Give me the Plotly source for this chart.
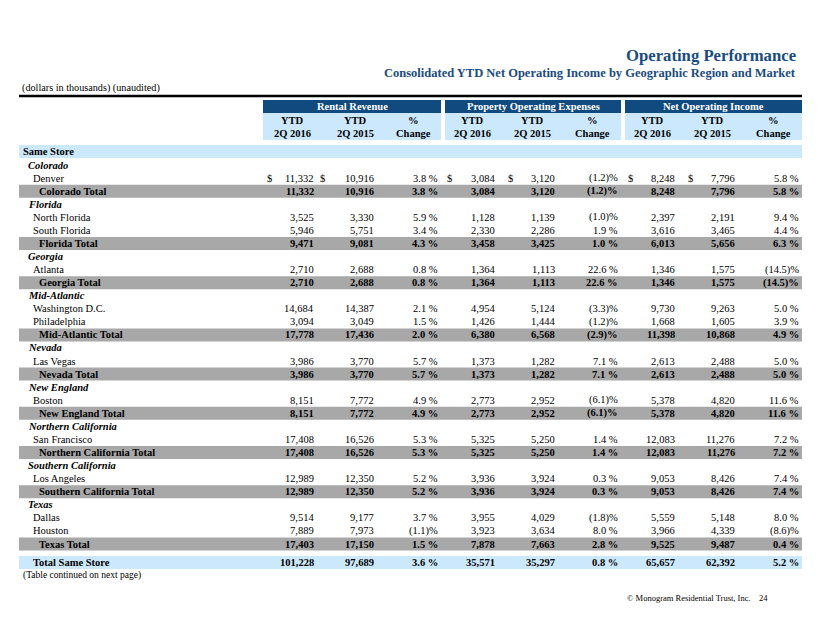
import plotly.graph_objects as go

# ---------------- data ----------------
row_labels = ["Colorado", "Denver", "Colorado Total",
              "Florida", "North Florida", "South Florida", "Florida Total",
              "Georgia", "Atlanta", "Georgia Total",
              "Mid-Atlantic", "Washington D.C.", "Philadelphia", "Mid-Atlantic Total",
              "Nevada", "Las Vegas", "Nevada Total",
              "New England", "Boston", "New England Total",
              "Northern California", "San Francisco", "Northern California Total",
              "Southern California", "Los Angeles", "Southern California Total",
              "Texas", "Dallas", "Houston", "Texas Total"]
row_kinds = ["region", "market", "total",
             "region", "market", "market", "total",
             "region", "market", "total",
             "region", "market", "market", "total",
             "region", "market", "total",
             "region", "market", "total",
             "region", "market", "total",
             "region", "market", "total",
             "region", "market", "market", "total"]
N = None
rr_2016 = [N, 11332, 11332, N, 3525, 5946, 9471, N, 2710, 2710, N, 14684, 3094, 17778,
           N, 3986, 3986, N, 8151, 8151, N, 17408, 17408, N, 12989, 12989, N, 9514, 7889, 17403]
rr_2015 = [N, 10916, 10916, N, 3330, 5751, 9081, N, 2688, 2688, N, 14387, 3049, 17436,
           N, 3770, 3770, N, 7772, 7772, N, 16526, 16526, N, 12350, 12350, N, 9177, 7973, 17150]
rr_pct = [N, 3.8, 3.8, N, 5.9, 3.4, 4.3, N, 0.8, 0.8, N, 2.1, 1.5, 2.0,
          N, 5.7, 5.7, N, 4.9, 4.9, N, 5.3, 5.3, N, 5.2, 5.2, N, 3.7, -1.1, 1.5]
poe_2016 = [N, 3084, 3084, N, 1128, 2330, 3458, N, 1364, 1364, N, 4954, 1426, 6380,
            N, 1373, 1373, N, 2773, 2773, N, 5325, 5325, N, 3936, 3936, N, 3955, 3923, 7878]
poe_2015 = [N, 3120, 3120, N, 1139, 2286, 3425, N, 1113, 1113, N, 5124, 1444, 6568,
            N, 1282, 1282, N, 2952, 2952, N, 5250, 5250, N, 3924, 3924, N, 4029, 3634, 7663]
poe_pct = [N, -1.2, -1.2, N, -1.0, 1.9, 1.0, N, 22.6, 22.6, N, -3.3, -1.2, -2.9,
           N, 7.1, 7.1, N, -6.1, -6.1, N, 1.4, 1.4, N, 0.3, 0.3, N, -1.8, 8.0, 2.8]
noi_2016 = [N, 8248, 8248, N, 2397, 3616, 6013, N, 1346, 1346, N, 9730, 1668, 11398,
            N, 2613, 2613, N, 5378, 5378, N, 12083, 12083, N, 9053, 9053, N, 5559, 3966, 9525]
noi_2015 = [N, 7796, 7796, N, 2191, 3465, 5656, N, 1575, 1575, N, 9263, 1605, 10868,
            N, 2488, 2488, N, 4820, 4820, N, 11276, 11276, N, 8426, 8426, N, 5148, 4339, 9487]
noi_pct = [N, 5.8, 5.8, N, 9.4, 4.4, 6.3, N, -14.5, -14.5, N, 5.0, 3.9, 4.9,
           N, 5.0, 5.0, N, 11.6, 11.6, N, 7.2, 7.2, N, 7.4, 7.4, N, 8.0, -8.6, 0.4]

total_label = "Total Same Store"
total_values = [101228, 97689, 3.6, 35571, 35297, 0.8, 65657, 62392, 5.2]

group_titles = ["Rental Revenue", "Property Operating Expenses", "Net Operating Income"]
col_headers = ["YTD<br>2Q 2016", "YTD<br>2Q 2015", "%<br>Change"]

title = "Operating Performance"
subtitle = "Consolidated YTD Net Operating Income by Geographic Region and Market"
note_top = "(dollars in thousands) (unaudited)"
note_bottom = "(Table continued on next page)"
footer = "\u00a9 Monogram Residential Trust, Inc.\u00a0\u00a0\u00a0 24"

# ---------------- style / layout ----------------
W, H = 822, 635
OFF = 8  # page body margin
FONT = "Liberation Serif, Times New Roman, serif"
DARK = "#114a7e"
TITLE_C = "#1a4c80"
LIGHT = "#cce8fd"
GRAY = "#a8a8a8"
FS = 10.5

LEFT, RIGHT = 19, 802
group_x = [(263, 441), (445, 621), (625, 802)]
col_centers = [292, 355, 413, 472, 532, 592, 652, 712, 773]
num_right = [316, 376, 440, 497, 557, 620, 677, 737, 801]
dollar_x = [269, 322, None, 449, 510, None, 630, 690, None]

y0 = 165.0
pitch = 13.07

fig = go.Figure()
shapes = []
ann = []


def add_text(x, y, text, anchor="left", bold=False, italic=False, size=FS, color="black"):
    ann.append(dict(x=x, y=y, xref="x", yref="y", text=text, showarrow=False,
                    xanchor=anchor, yanchor="middle",
                    font=dict(family=FONT, size=size, color=color,
                              weight="bold" if bold else "normal",
                              style="italic" if italic else "normal")))


def rect(x0, y0_, x1, y1, color):
    shapes.append(dict(type="rect", xref="x", yref="y", x0=x0, x1=x1, y0=y0_, y1=y1,
                       fillcolor=color, line=dict(width=0), layer="below"))


def fmt_num(v):
    return f"{v:,.0f}"


def fmt_pct(v):
    return f"{v:.1f} %" if v >= 0 else f"({abs(v):.1f})%"


# titles
add_text(798, 55, title, anchor="right", bold=True, size=16.7, color=TITLE_C)
add_text(798, 73, subtitle, anchor="right", bold=True, size=12.5, color=TITLE_C)
add_text(20, 88, note_top, size=10.2)

# thick rule
shapes.append(dict(type="line", xref="x", yref="y", x0=LEFT, x1=RIGHT, y0=96, y1=96,
                   line=dict(color="black", width=2.5)))

# header bands
for (gx0, gx1), gt in zip(group_x, group_titles):
    rect(gx0, 100, gx1, 113, DARK)
    rect(gx0, 113, gx1, 140, LIGHT)
    add_text((gx0 + gx1) / 2, 106.5, gt, anchor="center", bold=True, size=FS, color="white")
for i, cx in enumerate(col_centers):
    parts = col_headers[i % 3].split("<br>")
    add_text(cx, 120, parts[0], anchor="center", bold=True)
    add_text(cx, 133, parts[1], anchor="center", bold=True)

# Same Store band
rect(LEFT, 145, RIGHT, 158, LIGHT)
add_text(21, 151.5, "Same Store", bold=True)

cols = [rr_2016, rr_2015, rr_pct, poe_2016, poe_2015, poe_pct, noi_2016, noi_2015, noi_pct]

for i, (lab, kind) in enumerate(zip(row_labels, row_kinds)):
    y = y0 + i * pitch
    if kind == "region":
        add_text(26, y, lab, bold=True, italic=True)
        continue
    bold = kind == "total"
    if bold:
        rect(LEFT, y - 6.5, RIGHT, y + 6.5, GRAY)
        add_text(37, y, lab, bold=True)
    else:
        add_text(31, y, lab)
    for j, col in enumerate(cols):
        v = col[i]
        txt = fmt_pct(v) if j % 3 == 2 else fmt_num(v)
        add_text(num_right[j], y, txt, anchor="right", bold=bold)
    if i == 1:
        for dx in dollar_x:
            if dx is not None:
                add_text(dx, y, "$", anchor="center")

# total same store
yt = 562.5
rect(LEFT, 556, RIGHT, 569, LIGHT)
add_text(31, yt, total_label, bold=True)
for j, v in enumerate(total_values):
    txt = fmt_pct(v) if j % 3 == 2 else fmt_num(v)
    add_text(num_right[j], yt, txt, anchor="right", bold=True)

add_text(21, 575.5, note_bottom, size=9.5)
add_text(770, 598, footer, anchor="right", size=8.5)

fig.update_layout(
    width=W - 2 * OFF, height=H - 2 * OFF, margin=dict(l=0, r=0, t=0, b=0),
    paper_bgcolor="white", plot_bgcolor="white",
    xaxis=dict(range=[OFF, W - OFF], visible=False, fixedrange=True),
    yaxis=dict(range=[H - OFF, OFF], visible=False, fixedrange=True),
    shapes=shapes, annotations=ann, showlegend=False,
)
fig.write_html("out.html")
